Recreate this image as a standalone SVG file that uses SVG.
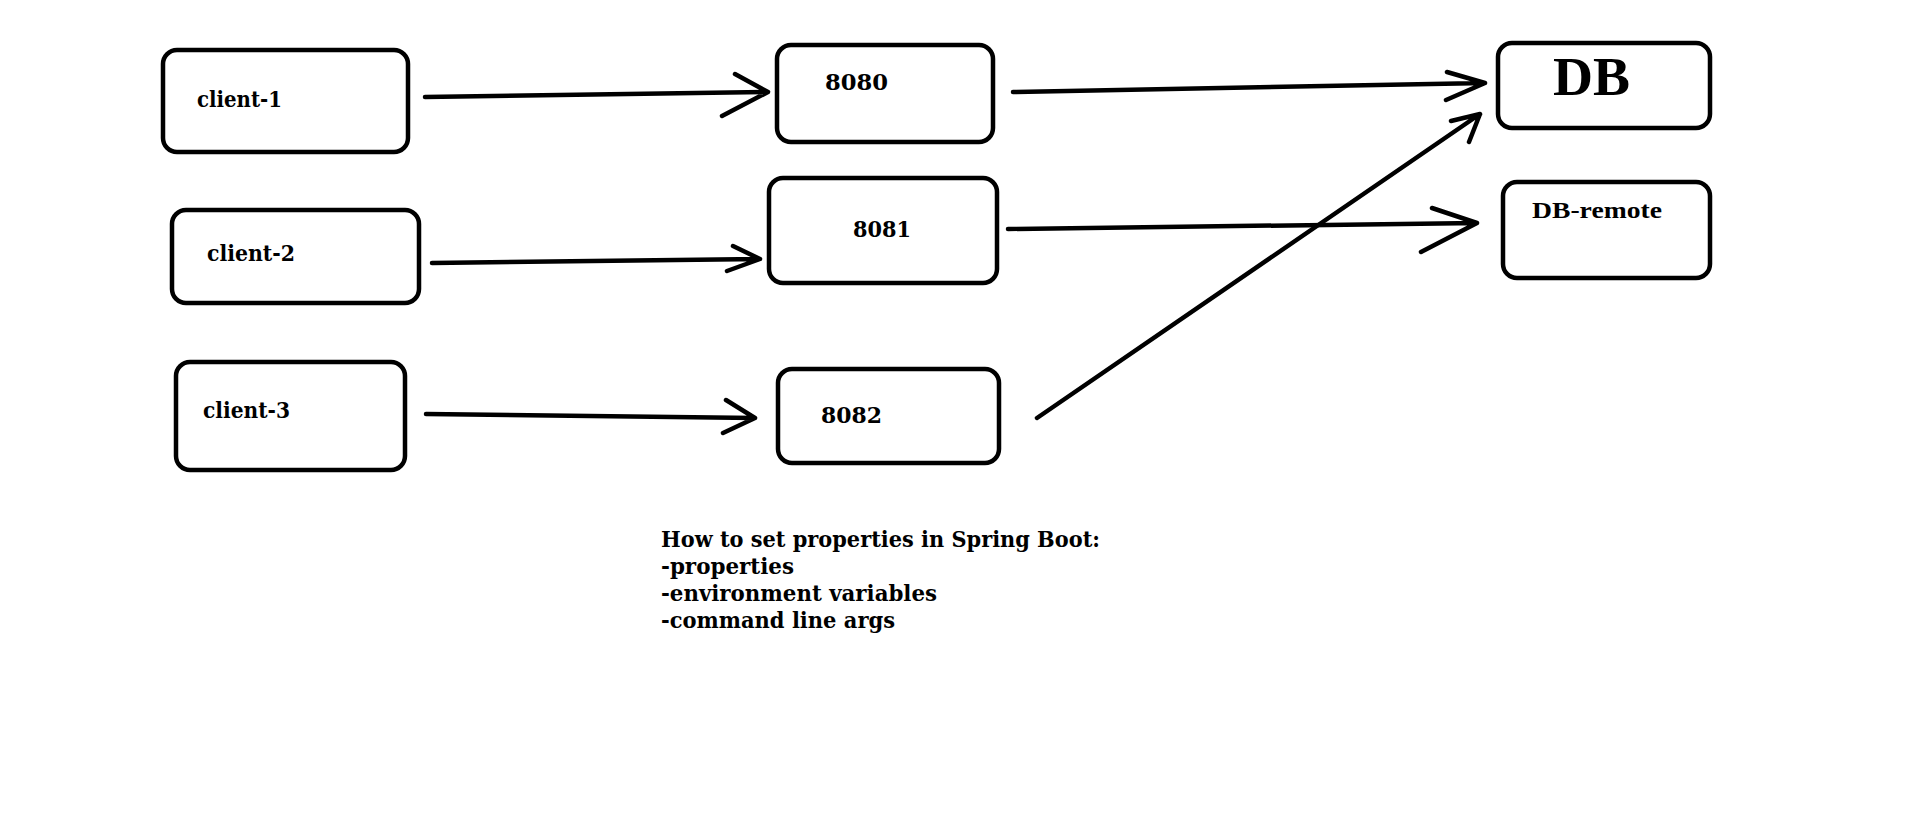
<svg xmlns="http://www.w3.org/2000/svg" width="1906" height="817" viewBox="0 0 1906 817">
<style>
.box{fill:#fff;stroke:#000;stroke-width:4.5}
.lbl{font-family:"DejaVu Serif","Liberation Serif",serif;font-weight:bold;font-size:22px;fill:#000}
.tms{font-family:"Liberation Serif","Times New Roman",serif;font-weight:bold;fill:#000}
.con path{fill:none;stroke:#000;stroke-width:4.5;stroke-linecap:round;stroke-linejoin:round}
</style>
<rect width="1906" height="817" fill="#fff"/>
<g id="client-1"><rect class="box" x="163" y="50" width="245" height="102" rx="14"/><text class="lbl" x="197" y="107" textLength="85" lengthAdjust="spacingAndGlyphs">client-1</text></g>
<g id="client-2"><rect class="box" x="172" y="210" width="247" height="93" rx="14"/><text class="lbl" x="207" y="261" textLength="88" lengthAdjust="spacingAndGlyphs">client-2</text></g>
<g id="client-3"><rect class="box" x="176" y="362" width="229" height="108" rx="14"/><text class="lbl" x="203" y="418" textLength="87" lengthAdjust="spacingAndGlyphs">client-3</text></g>
<g id="p8080"><rect class="box" x="777" y="45" width="216" height="97" rx="14"/><text class="lbl" x="825" y="90" textLength="63" lengthAdjust="spacingAndGlyphs">8080</text></g>
<g id="p8081"><rect class="box" x="769" y="178" width="228" height="105" rx="14"/><text class="lbl" x="853" y="237" textLength="58" lengthAdjust="spacingAndGlyphs">8081</text></g>
<g id="p8082"><rect class="box" x="778" y="369" width="221" height="94" rx="14"/><text class="lbl" x="821" y="423" textLength="61" lengthAdjust="spacingAndGlyphs">8082</text></g>
<g id="db"><rect class="box" x="1498" y="43" width="212" height="85" rx="14"/><text class="tms" x="1553" y="95" font-size="55" textLength="77" lengthAdjust="spacingAndGlyphs">DB</text></g>
<g id="db-remote"><rect class="box" x="1503" y="182" width="207" height="96" rx="14"/><text class="tms" x="1532" y="218" font-size="23" textLength="130" lengthAdjust="spacingAndGlyphs">DB-remote</text></g>
<g id="connectors" class="con">
<path d="M425 97 L768 92 M735 74 L768 92 L722 116"/>
<path d="M432 263 L760 259 M733 246 L760 259 L727 271"/>
<path d="M426 414 L755 418 M726 400 L755 418 L723 433"/>
<path d="M1013 92 L1485 83 M1447 72 L1485 83 L1446 100"/>
<path d="M1008 229 L1477 223 M1432 208 L1477 223 L1421 252"/>
<path d="M1037 418 L1480 114 M1451 121 L1480 114 L1469 142"/>
</g>
<g id="notes" class="lbl">
<text x="661" y="547" textLength="439" lengthAdjust="spacingAndGlyphs">How to set properties in Spring Boot:</text>
<text x="661" y="574" textLength="133" lengthAdjust="spacingAndGlyphs">-properties</text>
<text x="661" y="601" textLength="276" lengthAdjust="spacingAndGlyphs">-environment variables</text>
<text x="661" y="628" textLength="234" lengthAdjust="spacingAndGlyphs">-command line args</text>
</g>
</svg>
